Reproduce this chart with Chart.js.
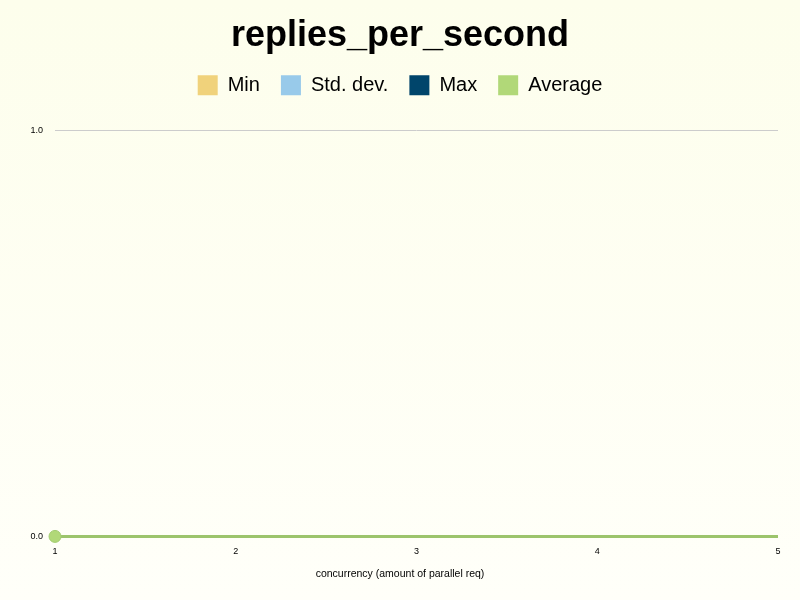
<!DOCTYPE html>
<html>
<head>
<meta charset="utf-8">
<script src="https://cdn.jsdelivr.net/npm/chart.js@4"></script>
<style>
html,body{margin:0;padding:0;}
body{width:800px;height:600px;background:linear-gradient(to bottom,#fdfeec 0%,#fffff9 100%);}
#wrap{width:800px;height:600px;position:relative;}
</style>
</head>
<body>
<div id="wrap"><canvas id="c" width="800" height="600"></canvas></div>
<script>
const titleText = "replies_per_second";
const concurrency = [1, 2, 3, 4, 5];
const minValues = [];
const stdDevValues = [];
const maxValues = [];
const averageValues = [0, 0, 0, 0, 0];
const yTicks = [0.0, 1.0];
const xTitle = "concurrency (amount of parallel req)";

const toPts = vals => vals.map((v, i) => ({x: concurrency[i], y: v}));

new Chart(document.getElementById('c'), {
  type: 'line',
  data: {
    datasets: [
      {label: 'Min', data: toPts(minValues), backgroundColor: '#f0d27b', borderColor: '#f0d27b'},
      {label: 'Std. dev.', data: toPts(stdDevValues), backgroundColor: '#98caea', borderColor: '#98caea'},
      {label: 'Max', data: toPts(maxValues), backgroundColor: '#00456b', borderColor: '#00456b'},
      {label: 'Average', data: toPts(averageValues), backgroundColor: '#b1d878', borderColor: '#9cc46c',
        borderWidth: 3, clip: false, pointRadius: averageValues.map((v, i) => i === 0 ? 6 : 0),
        pointBackgroundColor: '#b1d878', pointBorderColor: '#a3cc72', pointBorderWidth: 1}
    ]
  },
  options: {
    responsive: false,
    animation: false,
    layout: {padding: 0},
    plugins: {
      title: {display: true, text: titleText, color: '#000', font: {family: 'Liberation Sans', size: 36, weight: 'bold', lineHeight: 1.033}, padding: {top: 17, bottom: 0}},
      subtitle: {display: true, position: 'bottom', text: xTitle, color: '#000', font: {family: 'Liberation Sans', size: 10.5}, padding: {top: 4, bottom: 20}},
      legend: {
        display: true,
        labels: {color: '#000', font: {family: 'Liberation Sans', size: 20}, boxWidth: 20, boxHeight: 20, padding: 21,
          generateLabels: chart => chart.data.datasets.map((d, i) => ({text: d.label, fillStyle: d.backgroundColor, strokeStyle: d.backgroundColor, lineWidth: 0, datasetIndex: i, hidden: false}))}
      },
      tooltip: {enabled: false}
    },
    scales: {
      x: {
        type: 'linear', min: concurrency[0], max: concurrency[concurrency.length - 1],
        afterFit: s => { s.height = 27; },
        grid: {display: false, drawTicks: false},
        border: {display: false},
        ticks: {stepSize: 1, color: '#000', font: {family: 'Liberation Sans', size: 9}, padding: 10}
      },
      xTop: {
        type: 'linear', position: 'top', display: true,
        afterFit: s => { s.height = 25; },
        grid: {display: false, drawTicks: false}, border: {display: false}, ticks: {display: false}
      },
      y: {
        min: yTicks[0], max: yTicks[yTicks.length - 1],
        afterFit: s => { s.width = 55; },
        afterBuildTicks: s => { s.ticks = yTicks.map(v => ({value: v})); },
        grid: {color: '#cccccc', drawTicks: false, lineWidth: 1},
        border: {display: false},
        ticks: {color: '#000', font: {family: 'Liberation Sans', size: 9}, padding: 12, callback: v => Number(v).toFixed(1)}
      },
      yRight: {
        position: 'right', display: true,
        afterFit: s => { s.width = 22; },
        grid: {display: false, drawTicks: false}, border: {display: false}, ticks: {display: false}
      }
    }
  }
});
</script>
</body>
</html>
